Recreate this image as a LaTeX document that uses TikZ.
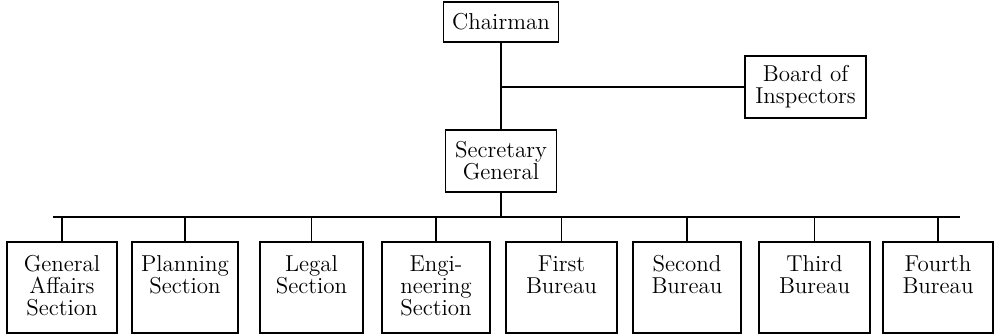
\documentclass[tikz,border=0pt]{standalone}
\begin{document}
\begin{tikzpicture}[x=0.5pt,y=-0.5pt,
  box/.style={draw,line width=0.7pt,inner sep=0pt,align=center,font=\fontsize{11.5}{11}\selectfont},
  wire/.style={line width=0.7pt},
  lowbox/.style={box,minimum height=45.5pt},
  toptext/.style={anchor=north,yshift=-7pt,inner sep=0pt,align=center,font=\fontsize{11.5}{11}\selectfont}
]
\useasboundingbox (0,0) rectangle (1000,335);
\node[box,minimum width=57.5pt,minimum height=20pt] (chair) at (501,22) {Chairman};
\node[box,minimum width=60.5pt,minimum height=31pt] (board) at (805.5,87) {Board of\\Inspectors};
\node[box,minimum width=55.5pt,minimum height=31pt] (sec) at (501,161) {Secretary\\General};

\node[lowbox,minimum width=55pt,label={[toptext]north:General\\Affairs\\Section}] (b1) at (62,287.5) {};
\node[lowbox,minimum width=53pt,label={[toptext]north:Planning\\Section}] (b2) at (185,287.5) {};
\node[lowbox,minimum width=51.5pt,label={[toptext]north:Legal\\Section}] (b3) at (311.5,287.5) {};
\node[lowbox,minimum width=54pt,label={[toptext]north:Engi-\\neering\\Section}] (b4) at (436,287.5) {};
\node[lowbox,minimum width=55.5pt,label={[toptext]north:First\\Bureau}] (b5) at (561.5,287.5) {};
\node[lowbox,minimum width=54pt,label={[toptext]north:Second\\Bureau}] (b6) at (687,287.5) {};
\node[lowbox,minimum width=55.5pt,label={[toptext]north:Third\\Bureau}] (b7) at (814.5,287.5) {};
\node[lowbox,minimum width=55pt,label={[toptext]north:Fourth\\Bureau}] (b8) at (938,287.5) {};

\coordinate (j) at (chair.south |- board.west);
\coordinate (busL) at (53,217);
\coordinate (busR) at (960,217);
\coordinate (busM) at (sec.south |- busL);

\draw[wire] (chair.south) -- (sec.north);
\draw[wire] (j) -- (board.west);
\draw[wire] (sec.south) -- (busM);
\draw[wire] (busL) -- (busR);
\foreach \b in {b1,b2,b3,b4,b5,b6,b7,b8}
  \draw[wire] (\b.north |- busL) -- (\b.north);
\end{tikzpicture}
\end{document}
